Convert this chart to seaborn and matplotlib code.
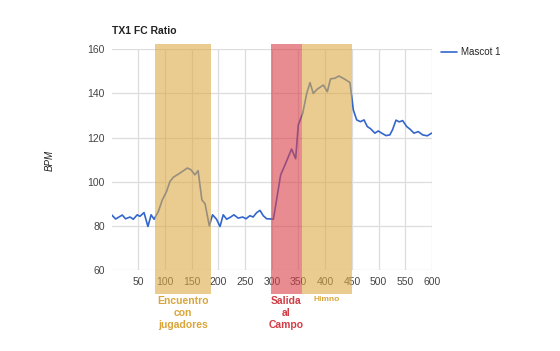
import matplotlib
matplotlib.use("Agg")
import matplotlib.pyplot as plt
import seaborn as sns
import pandas as pd

# Data
time_s = [0, 7.5, 20, 26, 34.5, 40.6, 48, 53, 60.7, 68, 74, 79.5, 87.5, 95, 103, 109, 115.5,
          128, 141.8, 148.7, 156, 162, 169, 175, 183, 189, 196.5, 203, 209, 215.5, 223, 229,
          237, 245.5, 251.7, 259, 265, 271.7, 277.9, 284, 290.4, 300, 303, 316.6, 324.7, 337,
          344.7, 349.6, 357.9, 365.4, 371.5, 377.7, 385, 396.5, 404, 410, 418.4, 425.8, 437,
          446.4, 452.7, 459, 466, 472.7, 478.8, 485, 493, 499.4, 505.8, 513.8, 521, 526,
          532.6, 538.8, 545, 552.6, 558.8, 566.3, 574.3, 582.6, 591.2, 599.4]
bpm = [85, 83.1, 84.9, 83.2, 84, 83, 85, 84.3, 86, 79.7, 85, 83, 86.5, 91.8, 95.6, 100, 102,
       103.9, 106.2, 105.4, 103.1, 105, 91.8, 90, 80, 85, 83, 79.7, 85, 83, 84, 85,
       83.5, 84, 83.2, 84.6, 84, 86, 87, 84.6, 83.2, 83.1, 83, 103.1, 107.6, 114.8,
       110.4, 125.7, 131, 140, 144.9, 140, 141.9, 143.8, 140.8, 146.6, 146.9, 147.9, 146.4,
       144.9, 132.5, 128, 127.2, 128, 125, 124, 122, 123, 122, 120.9, 121.2, 123.5,
       127.9, 127.1, 127.7, 125, 123.8, 122, 122.7, 121.2, 120.8, 122]
series_name = "Mascot 1"

band_starts = [81, 298.5, 356]
band_ends = [185.5, 356, 449.5]
band_labels = ["Encuentro\ncon\njugadores", "Salida\nal\nCampo", "Himno"]

x_ticks = [50, 100, 150, 200, 250, 300, 350, 400, 450, 500, 550, 600]
y_ticks = [60, 80, 100, 120, 140, 160]

df = pd.DataFrame({"Tiempo": time_s, "BPM": bpm, "Serie": series_name})

sns.set_style("white")
plt.rcParams['font.family'] = ['Liberation Sans', 'DejaVu Sans']

fig = plt.figure(figsize=(5.6, 3.51), dpi=100)
ax = fig.add_axes([0.1993, 0.2308, 0.5721, 0.6288])

sns.lineplot(data=df, x="Tiempo", y="BPM", hue="Serie", palette=["#3366CC"],
             linewidth=1.2, ax=ax, zorder=1, legend=True)

ax.set_xlim(0, 600)
ax.set_ylim(60, 160)
ax.set_xticks(x_ticks)
ax.set_yticks(y_ticks)
ax.tick_params(axis="both", length=0, labelsize=7.5, labelcolor="#444444", pad=5)
ax.grid(True, color="#DDDDDD", linewidth=0.9)
ax.set_axisbelow(True)
for s in ax.spines.values():
    s.set_visible(False)
ax.set_xlabel("")
ax.set_ylabel("")

band_colors = [(220/255, 170/255, 72/255), (217/255, 63/255, 73/255), (220/255, 170/255, 72/255)]
text_colors = ["#D9A53A", "#D23C46", "#D9A53A"]
text_sizes = [7.5, 7.5, 6]
for s, e, c, lab, tc, ts in zip(band_starts, band_ends, band_colors, band_labels, text_colors, text_sizes):
    r = ax.axvspan(s, e, ymin=-0.108, ymax=1.023, color=c, alpha=0.6, lw=0, zorder=3)
    r.set_clip_on(False)
    ax.text((s + e) / 2, -0.12, lab, transform=ax.get_xaxis_transform(), ha="center", va="top",
            fontsize=ts, fontweight="bold", color=tc, linespacing=1.25)

leg = ax.legend(loc="upper left", bbox_to_anchor=(0.772, 0.89), bbox_transform=fig.transFigure,
                frameon=False, fontsize=7, handlelength=1.6, handletextpad=0.5, title=None)

fig.text(0.1993, 0.913, "TX1 FC Ratio", fontsize=7.5, fontweight="bold", ha="left", va="center",
         color="#222222")
fig.text(0.089, 0.544, "BPM", fontsize=7, style="italic", rotation=90, ha="center", va="center",
         color="#222222")

fig.savefig("out.png", dpi=100)
